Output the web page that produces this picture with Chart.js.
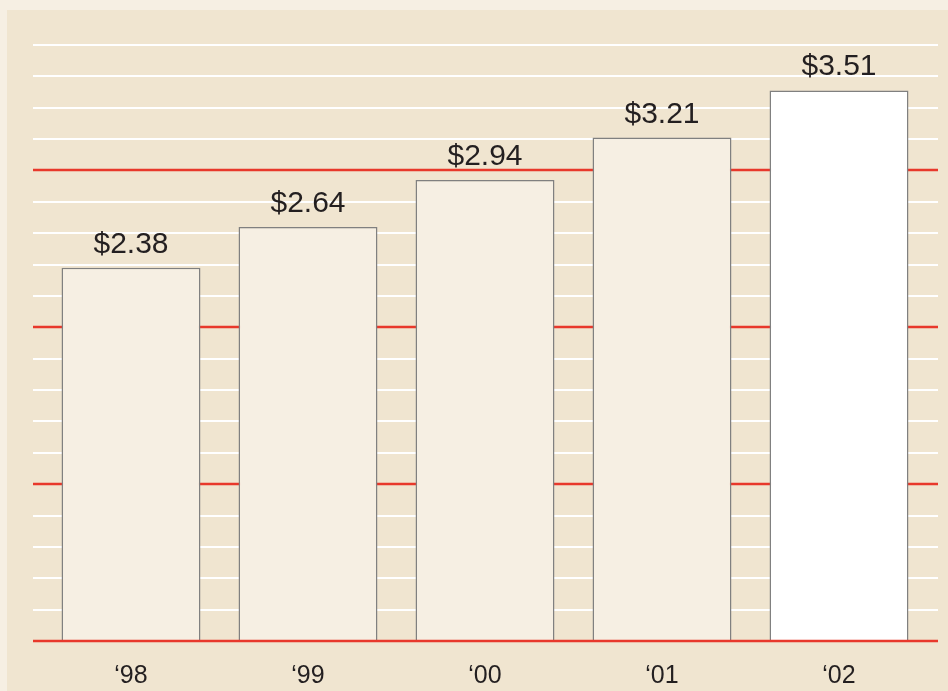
<!DOCTYPE html>
<html>
<head>
<meta charset="utf-8">
<script src="https://cdn.jsdelivr.net/npm/chart.js@4.4.7/dist/chart.umd.min.js"></script>
<style>
  html, body { margin: 0; padding: 0; background: #f6efe3; }
  body { width: 948px; height: 691px; position: relative; overflow: hidden; }
  .panel { position: absolute; left: 7px; top: 10px; width: 941px; height: 681px; background: #f0e5d0; overflow: hidden; }
  canvas { display: block; }
</style>
</head>
<body>
<div class="panel"><canvas id="epsChart" width="941" height="701"></canvas></div>
<script>
// ===== データ =====
const years = ['\u201898', '\u201899', '\u201800', '\u201801', '\u201802'];
const eps = [2.38, 2.64, 2.94, 3.21, 3.51];
const barFills = ['#f6efe3', '#f6efe3', '#f6efe3', '#f6efe3', '#ffffff'];
const valueLabels = ['$2.38', '$2.64', '$2.94', '$3.21', '$3.51'];

const FONT = '"Liberation Sans", Arial, Helvetica, sans-serif';

// ===== 横線（白の細線 + 整数値は赤線） =====
const gridLinesPlugin = {
  id: 'gridLines',
  beforeDatasetsDraw(chart) {
    const { ctx, chartArea, scales } = chart;
    const y = scales.y;
    ctx.save();
    y.ticks.forEach(t => {
      if (t.value === 0) return;
      const py = Math.round(y.getPixelForValue(t.value));
      const major = Math.abs(t.value - Math.round(t.value)) < 1e-6;
      ctx.strokeStyle = major ? '#e8382b' : '#ffffff';
      ctx.lineWidth = major ? 2.5 : 2;
      ctx.beginPath();
      ctx.moveTo(chartArea.left - 9.5, py);
      ctx.lineTo(chartArea.right + 10.5, py);
      ctx.stroke();
    });
    ctx.restore();
  },
  afterDatasetsDraw(chart) {
    const { ctx, chartArea, scales } = chart;
    const py = Math.round(scales.y.getPixelForValue(0));
    ctx.save();
    ctx.strokeStyle = '#e8382b';
    ctx.lineWidth = 2.5;
    ctx.beginPath();
    ctx.moveTo(chartArea.left - 9.5, py);
    ctx.lineTo(chartArea.right + 10.5, py);
    ctx.stroke();

    // 棒の上の金額ラベル
    const meta = chart.getDatasetMeta(0);
    ctx.fillStyle = '#231f20';
    ctx.font = '30px ' + FONT;
    ctx.textAlign = 'center';
    ctx.textBaseline = 'alphabetic';
    meta.data.forEach((bar, i) => {
      ctx.fillText(valueLabels[i], bar.x, bar.y - 15);
    });
    ctx.restore();
  }
};

// ===== チャート =====
function createEpsChart() {
  const ctx = document.getElementById('epsChart').getContext('2d');
  new Chart(ctx, {
    type: 'bar',
    data: {
      labels: years,
      datasets: [
        {
          data: eps,
          backgroundColor: barFills,
          borderColor: '#808080',
          borderWidth: 1.5,
          barPercentage: 0.785,
          categoryPercentage: 1
        }
      ]
    },
    options: {
      responsive: false,
      animation: false,
      layout: { padding: { left: 35.5, right: 20.5, top: 35, bottom: 0 } },
      plugins: {
        legend: { display: false },
        tooltip: { enabled: false }
      },
      scales: {
        x: {
          grid: { display: false, drawTicks: false },
          border: { display: false },
          ticks: {
            color: '#231f20',
            font: { size: 25, family: FONT },
            padding: 20
          }
        },
        y: {
          display: false,
          min: 0,
          max: 3.8,
          ticks: { stepSize: 0.2 }
        }
      }
    },
    plugins: [gridLinesPlugin]
  });
}

createEpsChart();
</script>
</body>
</html>
